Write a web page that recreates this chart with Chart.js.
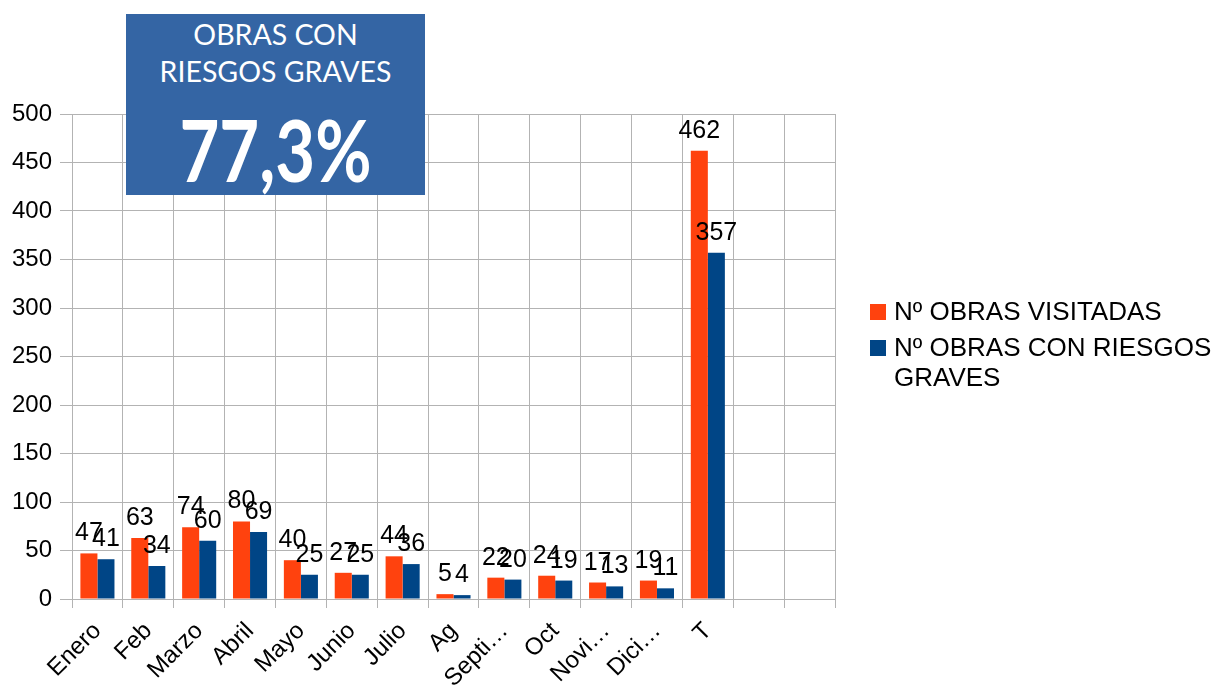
<!DOCTYPE html>
<html>
<head>
<meta charset="utf-8">
<script src="https://cdn.jsdelivr.net/npm/chart.js@4.4.1/dist/chart.umd.min.js"></script>
<style>
  html, body { margin: 0; padding: 0; background: #fff; }
  #wrap { position: relative; width: 1216px; height: 686px; }
  #obrasChart { position: absolute; left: 0; top: 0; }
  #rateBox {
    position: absolute; left: 126px; top: 14px; width: 299px; height: 181px;
    background: #3465a4; color: #fff; text-align: center;
    font-family: Lato, "Open Sans", sans-serif; overflow: hidden;
  }
  #rateBox .head { font-size: 28.5px; line-height: 37px; padding-top: 2px; }
  #rateBox .big {
    font-size: 86px; font-weight: bold; line-height: 90px; margin-top: 14px;
    transform: scaleX(0.8); transform-origin: 50% 50%;
  }
  #legend {
    position: absolute; left: 868px; top: 296px; width: 348px;
    font-family: "Liberation Sans", Arial, sans-serif; font-size: 26px; color: #000;
  }
  #legend .item { display: flex; align-items: flex-start; margin-bottom: 6px; line-height: 30px; }
  #legend .sw { width: 16px; height: 16px; margin: 8px 8px 0 2px; flex: none; }
</style>
</head>
<body>
<div id="wrap">
  <canvas id="obrasChart" width="1216" height="686"></canvas>
  <div id="rateBox">
    <div class="head">OBRAS CON<br>RIESGOS GRAVES</div>
    <div class="big">77,3%</div>
  </div>
  <div id="legend"></div>
</div>
<script>
// Datos
const meses = ['Enero', 'Feb', 'Marzo', 'Abril', 'Mayo', 'Junio', 'Julio', 'Ag', 'Septi…', 'Oct', 'Novi…', 'Dici…', 'T', '', ''];
const obrasVisitadas = [47, 63, 74, 80, 40, 27, 44, 5, 22, 24, 17, 19, 462, null, null];
const obrasRiesgos = [41, 34, 60, 69, 25, 25, 36, 4, 20, 19, 13, 11, 357, null, null];
const yTicks = [0, 50, 100, 150, 200, 250, 300, 350, 400, 450, 500];

const colores = ['#ff420e', '#004586'];
const etiquetas = ['Nº OBRAS VISITADAS', 'Nº OBRAS CON RIESGOS GRAVES'];

// etiquetas de valor encima de cada barra
const valueLabels = {
  id: 'valueLabels',
  afterDatasetsDraw(chart) {
    const ctx = chart.ctx;
    ctx.save();
    ctx.font = '25px "Liberation Sans", Arial, sans-serif';
    ctx.fillStyle = '#000';
    ctx.textAlign = 'center';
    ctx.textBaseline = 'alphabetic';
    chart.data.datasets.forEach((ds, i) => {
      chart.getDatasetMeta(i).data.forEach((bar, j) => {
        const v = ds.data[j];
        if (v == null) return;
        ctx.fillText(String(v), bar.x, bar.y - 13);
      });
    });
    ctx.restore();
  }
};

let obrasChartInstance = null;
function createObrasChart() {
  const ctx = document.getElementById('obrasChart');
  if (!ctx) {
    console.error('canvas not found');
    return;
  }

  obrasChartInstance = new Chart(ctx, {
    type: 'bar',
    data: {
      labels: meses,
      datasets: [{
        label: etiquetas[0],
        data: obrasVisitadas,
        backgroundColor: colores[0],
        categoryPercentage: 0.67,
        barPercentage: 1.0
      }, {
        label: etiquetas[1],
        data: obrasRiesgos,
        backgroundColor: colores[1],
        categoryPercentage: 0.67,
        barPercentage: 1.0
      }]
    },
    options: {
      responsive: false,
      animation: false,
      layout: { padding: { left: 0, right: 381, top: 114, bottom: 0 } },
      scales: {
        x: {
          grid: { color: '#b3b3b3', offset: true, tickLength: 9 },
          border: { color: '#b3b3b3' },
          ticks: {
            autoSkip: false, maxRotation: 45, minRotation: 45,
            color: '#000', padding: 9,
            font: { family: '"Liberation Sans", Arial, sans-serif', size: 24 }
          },
          afterFit(scale) { scale.height = 87; }
        },
        y: {
          min: 0, max: 500,
          afterBuildTicks(scale) { scale.ticks = yTicks.map(v => ({ value: v })); },
          grid: { color: '#b3b3b3', tickLength: 12 },
          border: { color: '#b3b3b3' },
          ticks: {
            color: '#000', padding: 8,
            font: { family: '"Liberation Sans", Arial, sans-serif', size: 24 }
          },
          afterFit(scale) { scale.width = 72; }
        }
      },
      plugins: {
        legend: { display: false },
        tooltip: { enabled: false }
      }
    },
    plugins: [valueLabels]
  });

  // leyenda HTML (la segunda etiqueta ocupa dos líneas)
  const leg = document.getElementById('legend');
  etiquetas.forEach((t, i) => {
    const it = document.createElement('div');
    it.className = 'item';
    it.innerHTML = '<span class="sw" style="background:' + colores[i] + '"></span><span>' + t + '</span>';
    leg.appendChild(it);
  });
}
createObrasChart();
</script>
</body>
</html>
